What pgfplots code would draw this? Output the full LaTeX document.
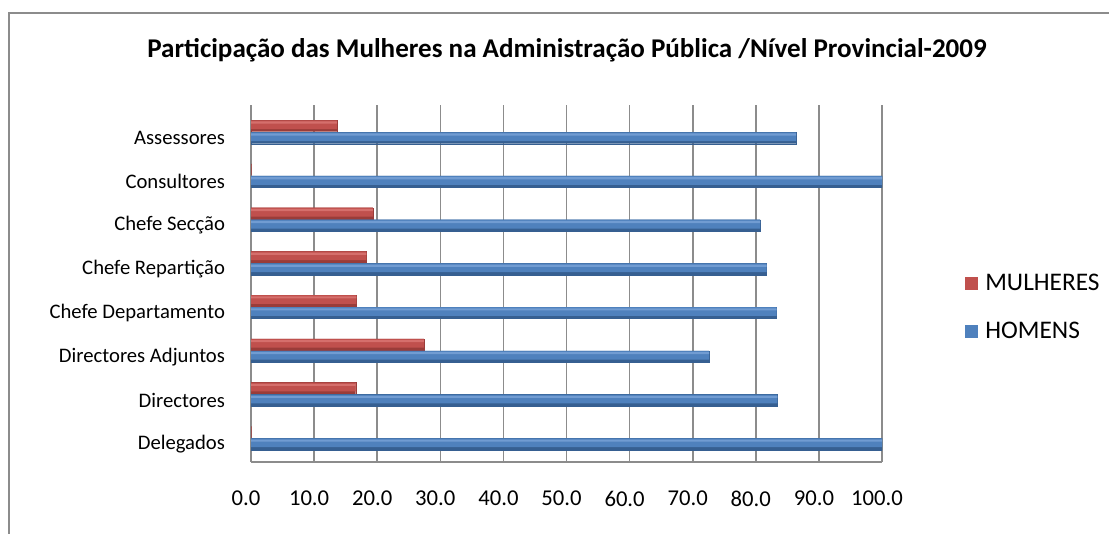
\documentclass[border=0pt]{standalone}
\usepackage{pgfplots}
\pgfplotsset{compat=1.18}
\usepackage{pgfplotstable}
\usepackage{fontspec}
\setmainfont{Carlito}
\definecolor{redM}{HTML}{C0504D}
\definecolor{redMt}{HTML}{D56F6C}
\definecolor{redMb}{HTML}{9A3C39}
\definecolor{blueH}{HTML}{4F81BD}
\definecolor{blueHt}{HTML}{719CD2}
\definecolor{blueHb}{HTML}{365F91}
\definecolor{gridc}{HTML}{8C8C8C}
\pgfplotstableread{
cat M H
0 0 100
1 16.6 83.4
2 27.4 72.6
3 16.7 83.3
4 18.3 81.7
5 19.3 80.7
6 0 100
7 13.6 86.4
}\datatable
\begin{document}
\begin{tikzpicture}
\useasboundingbox (0pt,0pt) rectangle (831.75pt,400.5pt);
\draw[gridc, line width=1.5pt] (6.75pt,0pt) -- (6.75pt,390.4pt) -- (831.75pt,390.4pt);
\node[font=\fontsize{20.3}{24}\selectfont\bfseries] at (425.25pt,363pt) {Participação das Mulheres na Administração Pública /Nível Provincial-2009};
\begin{axis}[
  at={(188.25pt,54pt)}, anchor=south west,
  scale only axis,
  width=473.25pt, height=267.75pt,
  xbar,
  xmin=0, xmax=100,
  ymin=-0.41, ymax=7.755,
  xtick={0,10,...,100},
  ytick={0,...,7},
  yticklabels={Delegados, Directores, Directores Adjuntos, Chefe Departamento, Chefe Repartição, Chefe Secção, Consultores, Assessores},
  /pgf/number format/fixed, /pgf/number format/fixed zerofill, /pgf/number format/precision=1,
  /pgf/number format/assume math mode=true,
  major tick length=0pt,
  axis x line*=bottom, axis y line*=left,
  axis line style={gridc, line width=1.5pt, -},
  xmajorgrids, major grid style={gridc, line width=1.2pt},
  xticklabel style={font=\fontsize{17}{19}\selectfont, yshift=-18pt, xshift=-3.75pt},
  yticklabel style={font=\fontsize{15.5}{18}\selectfont, xshift=-16pt},
  legend style={draw=none, at={(1.131,0.535)}, anchor=north west, font=\fontsize{19}{22}\selectfont, row sep=18pt, inner sep=0pt,
    nodes={inner xsep=6pt}},
  legend cell align=left,
]
% MULHERES
\addplot[bar width=8.6pt, bar shift=9pt, fill=redMb, draw=redMb, line width=0.3pt,
  legend image code/.code={\fill[redM] (0pt,-4.5pt) rectangle (9pt,4.5pt);}]
  table[x=M, y=cat] {\datatable};
\addplot[forget plot, bar width=6.6pt, bar shift=10pt, fill=redM, draw=none]
  table[x=M, y=cat] {\datatable};
\addplot[forget plot, bar width=1.6pt, bar shift=11.6pt, fill=redMt, draw=none]
  table[x=M, y=cat] {\datatable};
% HOMENS
\addplot[bar width=8.6pt, bar shift=0pt, fill=blueHb, draw=blueHb, line width=0.3pt,
  legend image code/.code={\fill[blueH] (0pt,-4.5pt) rectangle (9pt,4.5pt);}]
  table[x=H, y=cat] {\datatable};
\addplot[forget plot, bar width=6.6pt, bar shift=1pt, fill=blueH, draw=none]
  table[x=H, y=cat] {\datatable};
\addplot[forget plot, bar width=1.6pt, bar shift=2.6pt, fill=blueHt, draw=none]
  table[x=H, y=cat] {\datatable};
\legend{MULHERES, HOMENS}
\end{axis}
\end{tikzpicture}
\end{document}
